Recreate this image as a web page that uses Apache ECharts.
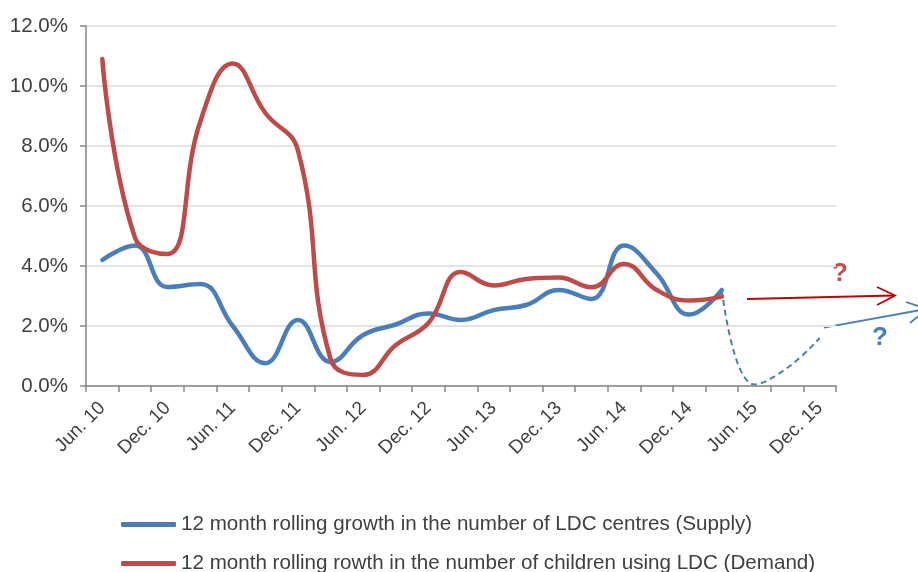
<!DOCTYPE html>
<html>
<head>
<meta charset="utf-8">
<script src="https://cdn.jsdelivr.net/npm/echarts@6/dist/echarts.min.js"></script>
<style>
  html, body { margin: 0; padding: 0; background: #fff; }
  #chart { width: 918px; height: 572px; }
</style>
</head>
<body>
<div id="chart"></div>
<script>
// Quarterly periods, Jun. 2010 to Dec. 2015
const categories = [
  'Jun. 10', 'Sep. 10', 'Dec. 10', 'Mar. 11',
  'Jun. 11', 'Sep. 11', 'Dec. 11', 'Mar. 12',
  'Jun. 12', 'Sep. 12', 'Dec. 12', 'Mar. 13',
  'Jun. 13', 'Sep. 13', 'Dec. 13', 'Mar. 14',
  'Jun. 14', 'Sep. 14', 'Dec. 14', 'Mar. 15',
  'Jun. 15', 'Sep. 15', 'Dec. 15'
];

// 12 month rolling growth, in percent
const supplyGrowth = [
  4.2, 4.68, 3.3, 3.4, 2.0, 0.76, 2.2, 0.8, 1.7, 2.05,
  2.42, 2.2, 2.53, 2.7, 3.2, 2.9, 4.68, 3.75, 2.38, 3.2,
  null, null, null
];
const demandGrowth = [
  10.9, 4.95, 4.4, 8.8, 10.75, 9.1, 7.85, 0.9, 0.37, 1.37,
  2.1, 3.8, 3.35, 3.57, 3.62, 3.29, 4.07, 3.2, 2.85, 2.98,
  null, null, null
];
// Possible path of supply growth after Mar. 15
const supplyOutlook = [
  null, null, null, null, null, null, null, null, null, null,
  null, null, null, null, null, null, null, null, null, 3.2,
  0.05, 0.6, 1.6
];

const yTicks = { min: 0, max: 12, step: 2 };

const seriesNames = [
  '12 month rolling growth in the number of LDC centres (Supply)',
  '12 month rolling rowth in the number of children using LDC (Demand)'
];

const BLUE = '#4a7ebb';
const RED = '#be4b48';
const TEXT = '#404040';
const AXIS = '#868686';
const FONT = '"Liberation Sans", Arial, sans-serif';

const chart = echarts.init(document.getElementById('chart'), null, { renderer: 'canvas' });

// One legend block per row, stacked under the plot
const legendRow = (name, top) => ({
  orient: 'horizontal',
  left: 121,
  top: top,
  itemWidth: 55,
  itemHeight: 5,
  icon: 'roundRect',
  padding: 0,
  data: [name],
  textStyle: { color: TEXT, fontFamily: FONT, fontSize: 20.6 }
});

chart.setOption({
  animation: false,
  backgroundColor: '#ffffff',
  grid: { left: 86, right: 82, top: 26, bottom: 186, containLabel: false },
  xAxis: {
    type: 'category',
    data: categories,
    boundaryGap: true,
    axisLine: { lineStyle: { color: AXIS, width: 1.5 } },
    axisTick: { show: true, interval: 0, length: 6, lineStyle: { color: AXIS, width: 1.5 } },
    axisLabel: {
      interval: 1,
      rotate: 45,
      margin: 19,
      color: TEXT,
      fontFamily: FONT,
      fontSize: 19
    },
    splitLine: { show: false }
  },
  yAxis: {
    type: 'value',
    min: yTicks.min,
    max: yTicks.max,
    interval: yTicks.step,
    axisLine: { show: true, lineStyle: { color: AXIS, width: 1.5 } },
    axisTick: { show: true, length: 6, lineStyle: { color: AXIS, width: 1.5 } },
    axisLabel: {
      margin: 18,
      color: TEXT,
      fontFamily: FONT,
      fontSize: 20.5,
      formatter: v => v.toFixed(1) + '%'
    },
    splitLine: { lineStyle: { color: '#e4e4e4', width: 2 } }
  },
  legend: [legendRow(seriesNames[0], 514), legendRow(seriesNames[1], 553)],
  series: [
    {
      name: seriesNames[0],
      type: 'line',
      data: supplyGrowth,
      smooth: 0.45,
      showSymbol: false,
      symbol: 'none',
      color: BLUE,
      lineStyle: { color: BLUE, width: 4.5, cap: 'round', join: 'round' },
      z: 3
    },
    {
      name: seriesNames[1],
      type: 'line',
      data: demandGrowth,
      smooth: 0.45,
      showSymbol: false,
      symbol: 'none',
      color: RED,
      lineStyle: { color: RED, width: 4.5, cap: 'round', join: 'round' },
      z: 4
    },
    {
      name: 'outlook',
      type: 'line',
      data: supplyOutlook,
      smooth: 0.45,
      showSymbol: false,
      symbol: 'none',
      color: BLUE,
      lineStyle: { color: BLUE, width: 2, type: [6, 4] },
      z: 2
    }
  ],
  graphic: [
    // Demand direction arrow
    { type: 'line', shape: { x1: 747, y1: 299, x2: 894, y2: 295.5 },
      style: { stroke: '#c00000', lineWidth: 1.8 } },
    { type: 'polyline', shape: { points: [[877, 287], [895, 295.5], [877, 305]] },
      style: { stroke: '#c00000', lineWidth: 1.8, fill: null } },
    { type: 'text', x: 840, y: 274,
      style: { text: '?', fill: '#c0504d', font: 'bold 26px ' + FONT,
               textAlign: 'center', textVerticalAlign: 'middle' } },
    // Supply direction arrow
    { type: 'line', shape: { x1: 824, y1: 327.7, x2: 926, y2: 309 },
      style: { stroke: BLUE, lineWidth: 1.8 } },
    { type: 'polyline', shape: { points: [[906, 302], [927, 309], [910, 323]] },
      style: { stroke: BLUE, lineWidth: 1.8, fill: null } },
    { type: 'text', x: 880, y: 338,
      style: { text: '?', fill: BLUE, font: 'bold 26px ' + FONT,
               textAlign: 'center', textVerticalAlign: 'middle' } }
  ]
});
</script>
</body>
</html>
